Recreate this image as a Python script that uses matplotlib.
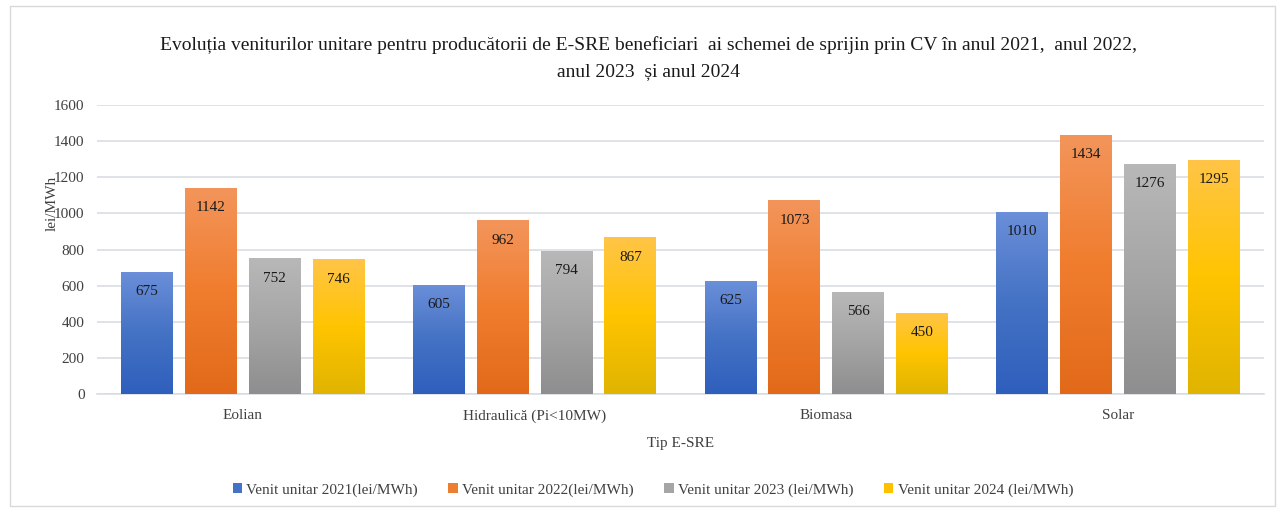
import matplotlib.pyplot as plt
import numpy as np
from matplotlib.colors import LinearSegmentedColormap
from matplotlib.patches import FancyBboxPatch

plt.rcParams['font.family'] = ['Liberation Serif', 'DejaVu Serif']

categorii = ["Eolian", "Hidraulică (Pi<10MW)", "Biomasa", "Solar"]
serii = ["Venit unitar 2021(lei/MWh)", "Venit unitar 2022(lei/MWh)",
         "Venit unitar 2023 (lei/MWh)", "Venit unitar 2024 (lei/MWh)"]
v2021 = [675, 605, 625, 1010]
v2022 = [1142, 962, 1073, 1434]
v2023 = [752, 794, 566, 1276]
v2024 = [746, 867, 450, 1295]
valori = [v2021, v2022, v2023, v2024]

# gradient top -> bottom for every series
gradiente = [
    ["#6b8fd9", "#4472c4", "#2f5fbd"],
    ["#f3955b", "#f07d2e", "#e2691a"],
    ["#b8b8b8", "#a5a5a5", "#8e8e8e"],
    ["#ffc547", "#ffc400", "#e0b400"],
]
culori_legenda = ["#4472c4", "#ed7d31", "#a5a5a5", "#ffc000"]

fig = plt.figure(figsize=(12.81, 5.08), dpi=100)
ax = fig.add_axes([97 / 1281, 0.2244, 1167 / 1281, 0.5689])

# chart border
fig.patches.append(FancyBboxPatch((10 / 1281, 2 / 508), 1265 / 1281, 500 / 508,
                                  boxstyle="square,pad=0", transform=fig.transFigure,
                                  fill=False, edgecolor="#d9d9d9", linewidth=1))

x = np.arange(len(categorii))
latime = 0.178
pas = 0.219

for i, vals in enumerate(valori):
    cmap = LinearSegmentedColormap.from_list("g%d" % i, gradiente[i])
    poz = x + (i - 1.5) * pas
    bare = ax.bar(poz, vals, width=latime, color=culori_legenda[i], label=serii[i], zorder=2)
    for b, v in zip(bare, vals):
        grad = np.linspace(0, 1, 256).reshape(-1, 1)
        im = ax.imshow(grad, cmap=cmap, aspect="auto", zorder=3,
                       extent=[b.get_x(), b.get_x() + b.get_width(), 0, v], origin="upper")
        im.set_clip_path(b)
        ax.text(b.get_x() + b.get_width() / 2, v - 110, str(v), ha="center", va="center",
                fontsize=11, color="#1a1a1a", zorder=4)

ax.set_xlim(-0.5, 3.5)
ax.set_ylim(0, 1600)
ax.set_yticks(range(0, 1601, 200))
ax.set_xticks(x)
ax.set_xticklabels(categorii, fontsize=11)
ax.tick_params(axis="y", labelsize=11, length=0, pad=9, colors="#404040")
ax.tick_params(axis="x", length=0, pad=11, colors="#404040")
ax.grid(axis="y", color="#d9dde3", linewidth=1.2, zorder=0)
for s in ["top", "right", "left"]:
    ax.spines[s].set_visible(False)
ax.spines["bottom"].set_color("#d9dde3")
ax.spines["bottom"].set_linewidth(1.2)

ax.set_xlabel("Tip E-SRE", fontsize=11, color="#404040", labelpad=10)
fig.text(52 / 1281, 1 - 203 / 508, "lei/MWh", rotation=90, ha="center", va="center",
         fontsize=11, color="#404040")

fig.text(0.5 + 8 / 1281, 1 - 58 / 508,
         "Evoluția veniturilor unitare pentru producătorii de E-SRE beneficiari  ai schemei de sprijin prin CV în anul 2021,  anul 2022,\nanul 2023  și anul 2024",
         ha="center", va="center", fontsize=14, color="#1a1a1a", linespacing=1.65)

ax.legend(loc="center", bbox_to_anchor=((653 - 97) / 1167, (1 - 490 / 508 - 0.2244) / 0.5689),
          ncol=4, frameon=False, fontsize=11, handlelength=0.6, handleheight=0.6,
          columnspacing=2.0, handletextpad=0.3, labelcolor="#404040")

fig.savefig("out.png", dpi=100)
